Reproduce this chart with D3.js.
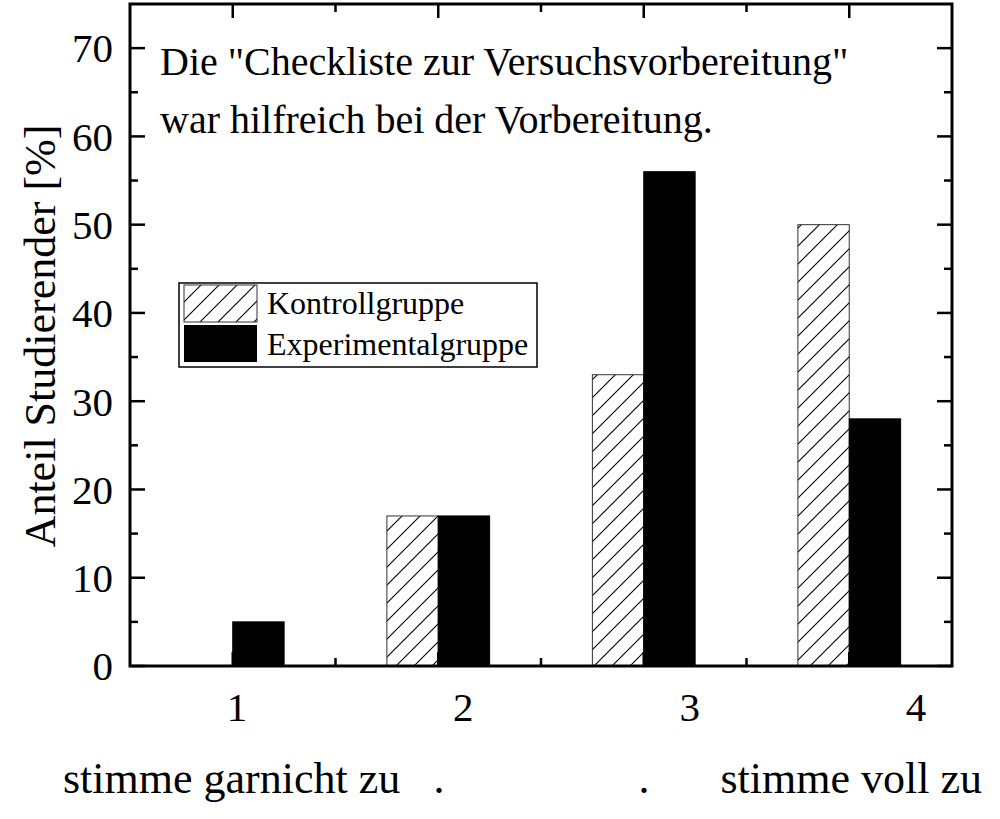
<!DOCTYPE html>
<html><head><meta charset="utf-8">
<script src="https://cdn.jsdelivr.net/npm/d3@7"></script>
<style>body{margin:0;background:#fff}svg{display:block}text{font-family:"Liberation Serif","Times New Roman",serif;fill:#000}</style>
</head><body>
<svg id="c" width="1000" height="819"></svg>
<script>
// ---- data ----
const categories = [1, 2, 3, 4];
const kontrollgruppe = [0, 17, 33, 50];
const experimentalgruppe = [5, 17, 56, 28];
const yTicks = [0, 10, 20, 30, 40, 50, 60, 70];
const scaleLabels = ["1", "2", "3", "4"];
const seriesNames = ["Kontrollgruppe", "Experimentalgruppe"];
const titleLines = ['Die "Checkliste zur Versuchsvorbereitung"', 'war hilfreich bei der Vorbereitung.'];
const yLabel = "Anteil Studierender [%]";
const anchorLeft = "stimme garnicht zu";
const anchorRight = "stimme voll zu";

// ---- layout ----
const L = 130, R = 952, T = 4, B = 666;
const svg = d3.select("#c");
const x = d3.scaleLinear().domain([0.5, 4.5]).range([L, R]);
const y = d3.scaleLinear().domain([0, 75]).range([B, T]);
const bw = 0.25;

const defs = svg.append("defs");
const pat = defs.append("pattern").attr("id", "hatch").attr("patternUnits", "userSpaceOnUse")
  .attr("width", 18).attr("height", 18);
pat.append("rect").attr("width", 18).attr("height", 18).attr("fill", "#fff");
pat.append("path").attr("d", "M-2,20 L20,-2 M-5,5 L5,-5 M13,23 L23,13")
  .attr("stroke", "#000").attr("stroke-width", 1.1);

// bars
const g = svg.append("g");
g.selectAll(".k").data(categories).join("rect")
  .attr("x", (d) => x(d - bw)).attr("width", x(bw) - x(0))
  .attr("y", (d, i) => y(kontrollgruppe[i])).attr("height", (d, i) => y(0) - y(kontrollgruppe[i]))
  .attr("fill", "url(#hatch)").attr("stroke", (d, i) => kontrollgruppe[i] > 0 ? "#333" : "none").attr("stroke-width", 1);
g.selectAll(".e").data(categories).join("rect")
  .attr("x", (d) => x(d)).attr("width", x(bw) - x(0))
  .attr("y", (d, i) => y(experimentalgruppe[i])).attr("height", (d, i) => y(0) - y(experimentalgruppe[i]))
  .attr("fill", "#000").attr("stroke", "#000").attr("stroke-width", 1);

// axes
const minorY = d3.range(5, 75, 10);
const majorX = categories, minorX = [1.5, 2.5, 3.5];
const tk = svg.append("g").attr("stroke", "#000").attr("stroke-width", 2.5);
yTicks.forEach(v => {
  tk.append("line").attr("x1", L).attr("x2", L + 15).attr("y1", y(v)).attr("y2", y(v));
  tk.append("line").attr("x1", R).attr("x2", R - 15).attr("y1", y(v)).attr("y2", y(v));
});
minorY.forEach(v => {
  tk.append("line").attr("x1", L).attr("x2", L + 8).attr("y1", y(v)).attr("y2", y(v));
  tk.append("line").attr("x1", R).attr("x2", R - 8).attr("y1", y(v)).attr("y2", y(v));
});
majorX.forEach(v => {
  tk.append("line").attr("x1", x(v)).attr("x2", x(v)).attr("y1", B).attr("y2", B - 14);
  tk.append("line").attr("x1", x(v)).attr("x2", x(v)).attr("y1", T).attr("y2", T + 14);
});
minorX.forEach(v => {
  tk.append("line").attr("x1", x(v)).attr("x2", x(v)).attr("y1", B).attr("y2", B - 8);
  tk.append("line").attr("x1", x(v)).attr("x2", x(v)).attr("y1", T).attr("y2", T + 8);
});
svg.append("rect").attr("x", L).attr("y", T).attr("width", R - L).attr("height", B - T)
  .attr("fill", "none").attr("stroke", "#000").attr("stroke-width", 3);

// y tick labels
svg.append("g").selectAll("text").data(yTicks).join("text")
  .attr("x", 113).attr("y", d => y(d)).attr("dy", "0.35em").attr("text-anchor", "end")
  .attr("font-size", 41).text(d => d);

// scale labels
const sx = d3.scalePoint().domain(scaleLabels).range([237, 916]);
svg.append("g").selectAll("text").data(scaleLabels).join("text")
  .attr("x", d => sx(d)).attr("y", 721).attr("text-anchor", "middle")
  .attr("font-size", 41).text(d => d);

// bottom anchors
svg.append("text").attr("x", 63).attr("y", 793).attr("font-size", 44).text(anchorLeft);
svg.append("text").attr("x", 439).attr("y", 793).attr("font-size", 44).attr("text-anchor", "middle").text(".");
svg.append("text").attr("x", 644).attr("y", 793).attr("font-size", 44).attr("text-anchor", "middle").text(".");
svg.append("text").attr("x", 982).attr("y", 793).attr("font-size", 44).attr("text-anchor", "end").text(anchorRight);

// y label
svg.append("text").attr("transform", "translate(55,336) rotate(-90)").attr("text-anchor", "middle")
  .attr("font-size", 44).text(yLabel);

// title
svg.append("g").selectAll("text").data(titleLines).join("text")
  .attr("x", 160).attr("y", (d, i) => 75 + i * 58).attr("font-size", 40).text(d => d);

// legend
const lg = svg.append("g");
lg.append("rect").attr("x", 179).attr("y", 283).attr("width", 358).attr("height", 84)
  .attr("fill", "#fff").attr("stroke", "#000").attr("stroke-width", 1.5);
lg.append("rect").attr("x", 184).attr("y", 285).attr("width", 73).attr("height", 37)
  .attr("fill", "url(#hatch)").attr("stroke", "#333").attr("stroke-width", 1);
lg.append("rect").attr("x", 184).attr("y", 325).attr("width", 73).attr("height", 37)
  .attr("fill", "#000");
lg.selectAll(".lt").data(seriesNames).join("text")
  .attr("x", 267).attr("y", (d, i) => 314 + i * 41).attr("font-size", 32).text(d => d);
</script>
</body></html>
